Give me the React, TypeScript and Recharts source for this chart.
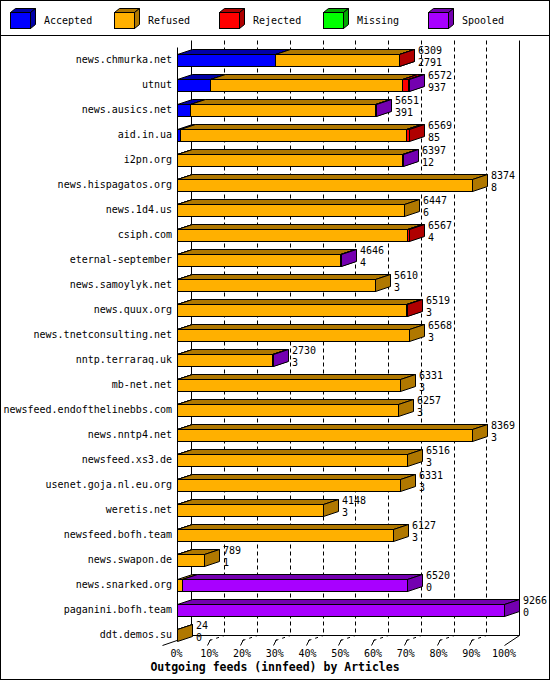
import React from "react";
import { Bar, BarChart, CartesianGrid, LabelList, Legend, XAxis, YAxis } from "recharts";

const hosts = [
  "news.chmurka.net",
  "utnut",
  "news.ausics.net",
  "aid.in.ua",
  "i2pn.org",
  "news.hispagatos.org",
  "news.1d4.us",
  "csiph.com",
  "eternal-september",
  "news.samoylyk.net",
  "news.quux.org",
  "news.tnetconsulting.net",
  "nntp.terraraq.uk",
  "mb-net.net",
  "newsfeed.endofthelinebbs.com",
  "news.nntp4.net",
  "newsfeed.xs3.de",
  "usenet.goja.nl.eu.org",
  "weretis.net",
  "newsfeed.bofh.team",
  "news.swapon.de",
  "news.snarked.org",
  "paganini.bofh.team",
  "ddt.demos.su"
];

// offered articles per peer (upper number next to each bar)
const totals = [6309, 6572, 5651, 6569, 6397, 8374, 6447, 6567, 4646, 5610, 6519, 6568, 2730, 6331, 6257, 8369, 6516, 6331, 4148, 6127, 789, 6520, 9266, 24];
const accepted = [2791, 937, 391, 85, 12, 8, 6, 4, 4, 3, 3, 3, 3, 3, 3, 3, 3, 3, 3, 3, 1, 0, 0, 0];
const refused = [3493, 5435, 5230, 6414, 6360, 8366, 6441, 6528, 4622, 5607, 6486, 6565, 2707, 6328, 6254, 8366, 6513, 6328, 4145, 6124, 788, 145, 0, 24];
const rejected = [25, 170, 0, 70, 0, 0, 0, 35, 0, 0, 30, 0, 0, 0, 0, 0, 0, 0, 0, 0, 0, 0, 0, 0];
const missing = [0, 0, 0, 0, 0, 0, 0, 0, 0, 0, 0, 0, 0, 0, 0, 0, 0, 0, 0, 0, 0, 0, 0, 0];
const spooled = [0, 30, 30, 0, 25, 0, 0, 0, 20, 0, 0, 0, 20, 0, 0, 0, 0, 0, 0, 0, 0, 6375, 9266, 0];

const maxArticles = 9266;
const tickPercents = [0, 10, 20, 30, 40, 50, 60, 70, 80, 90, 100];
const title = "Outgoing feeds (innfeed) by Articles";

const series = [
  { key: "accepted", name: "Accepted", color: "#0000ff", dark: "#0000a8" },
  { key: "refused", name: "Refused", color: "#ffb000", dark: "#b07800" },
  { key: "rejected", name: "Rejected", color: "#ff0000", dark: "#b00000" },
  { key: "missing", name: "Missing", color: "#00ff00", dark: "#00a800" },
  { key: "spooled", name: "Spooled", color: "#a800ff", dark: "#7400b0" }
];

const data = hosts.map((name, i) => ({
  name,
  accepted: accepted[i],
  refused: refused[i],
  rejected: rejected[i],
  missing: missing[i],
  spooled: spooled[i]
}));

const W = 550;
const H = 680;
const DX = 15;
const DY = 5;
const BAR = 12;
const BAND = 25;
const LEGEND_H = 36;
const FONT = "'DejaVu Sans Mono', 'Liberation Mono', monospace";
const FS = 10;
const GAP = (BAND - BAR) / 2;

const crisp = (v: number) => Math.round(v) + 0.5;

function Bar3D(props: any) {
  const { x, y, width, height, fill, dark } = props;
  if (!(width > 0)) return <g />;
  const x0 = crisp(x);
  const x1 = crisp(x + width);
  const y0 = crisp(y);
  const y1 = crisp(y + height);
  return (
    <g stroke="#000" strokeWidth={1}>
      <polygon points={`${x0},${y0} ${x0 + DX},${y0 - DY} ${x1 + DX},${y0 - DY} ${x1},${y0}`} fill={dark} />
      <polygon points={`${x1},${y0} ${x1 + DX},${y0 - DY} ${x1 + DX},${y1 - DY} ${x1},${y1}`} fill={dark} />
      <rect x={x0} y={y0} width={x1 - x0} height={y1 - y0} fill={fill} />
    </g>
  );
}

function TotalsLabel(props: any) {
  const vb = props.viewBox ?? props;
  const { index } = props;
  const tx = Math.round(vb.x + vb.width) + DX + 4;
  const ty = Math.round(vb.y);
  return (
    <g fontFamily={FONT} fontSize={FS} fill="#000">
      <text x={tx} y={ty - 3.5} dy="0.36em">{totals[index]}</text>
      <text x={tx} y={ty + 8} dy="0.36em">{accepted[index]}</text>
    </g>
  );
}

function renderGridLine(props: any) {
  const { x1, y1, y2, index } = props;
  const x = crisp(x1);
  const floorFront = crisp(y2 - GAP);
  const floorBack = floorFront - DY;
  const backTop = crisp(y1 - GAP);
  const last = index === tickPercents.length - 1;
  if (index === 0) {
    return (
      <g key={`g${index}`} stroke="#000" strokeWidth={1}>
        <line x1={x} y1={crisp(y1)} x2={x} y2={floorFront} />
        <line x1={x + DX - 1} y1={backTop} x2={x + DX - 1} y2={floorBack} />
      </g>
    );
  }
  if (last) {
    return (
      <g key={`g${index}`} stroke="#000" strokeWidth={1}>
        <line x1={x + DX} y1={backTop} x2={x + DX} y2={floorBack} />
      </g>
    );
  }
  return (
    <g key={`g${index}`} stroke="#000" strokeWidth={1}>
      <line x1={x + DX} y1={backTop} x2={x + DX} y2={floorBack} strokeDasharray="4 3" />
      <line x1={x} y1={floorFront} x2={x + DX} y2={floorBack} strokeDasharray="3 4" />
      <line x1={x - 2} y1={floorFront + 5} x2={x + 1} y2={floorFront - 1} />
    </g>
  );
}

function renderFloor(props: any) {
  const { x1, x2, y1 } = props;
  const left = crisp(x1);
  const right = crisp(x2);
  const floorFront = crisp(y1 - GAP);
  const floorBack = floorFront - DY;
  return (
    <g key="floor" stroke="#000" strokeWidth={1}>
      <line x1={left + DX - 1} y1={floorBack} x2={right + DX} y2={floorBack} />
      <line x1={left - DX} y1={floorFront + DY} x2={left + DX - 1} y2={floorBack} />
      <line x1={right} y1={floorFront + DY} x2={right + DX} y2={floorBack} />
    </g>
  );
}

function XTick(props: any) {
  const { x, y, index } = props;
  return (
    <text x={x} y={y + 10.5} textAnchor="middle" fontFamily={FONT} fontSize={FS} fill="#000">
      {`${tickPercents[index]}%`}
    </text>
  );
}

function TitleLabel() {
  return (
    <text x={W / 2} y={671} textAnchor="middle" fontFamily={FONT} fontSize={11.5} fontWeight="bold" fill="#000">
      {title}
    </text>
  );
}

function LegendBox() {
  return (
    <svg width={W} height={LEGEND_H} style={{ display: "block" }}>
      {series.map((s, i) => {
        const x0 = 10.5 + Math.round(i * 104.4);
        return (
          <g key={s.key}>
            <g stroke="#000" strokeWidth={1}>
              <polygon points={`${x0},12.5 ${x0 + 5},8.5 ${x0 + 25},8.5 ${x0 + 20},12.5`} fill={s.dark} />
              <polygon points={`${x0 + 20},12.5 ${x0 + 25},8.5 ${x0 + 25},24.5 ${x0 + 20},28.5`} fill={s.dark} />
              <rect x={x0} y={12.5} width={20} height={16} fill={s.color} />
            </g>
            <text x={x0 + 33.5} y={20} dy="0.36em" fontFamily={FONT} fontSize={FS} fill="#000">
              {s.name}
            </text>
          </g>
        );
      })}
      <line x1={0} y1={35.5} x2={W} y2={35.5} stroke="#000" strokeWidth={1} />
    </svg>
  );
}

export default function App() {
  const plotTop = 46.5;
  const plotLeft = 176.5;
  const plotRight = 504;
  const plotBottom = plotTop + BAND * hosts.length;
  const xAxisH = 20;

  return (
    <div style={{ position: "absolute", left: 0, top: 0, width: W, height: H, background: "#fff" }}>
      <BarChart
        width={W}
        height={H}
        data={data}
        layout="vertical"
        barSize={BAR}
        margin={{ top: plotTop - LEGEND_H, right: W - plotRight, bottom: H - plotBottom - xAxisH, left: 1 }}
      >
        <CartesianGrid
          horizontal={renderFloor}
          vertical={renderGridLine}
          horizontalCoordinatesGenerator={({ offset }: any) => [offset.top + offset.height]}
        />
        <XAxis
          type="number"
          domain={[0, maxArticles]}
          ticks={tickPercents.map((p) => (p / 100) * maxArticles)}
          height={xAxisH}
          axisLine={false}
          tickLine={false}
          tickSize={0}
          tickMargin={0}
          tick={<XTick />}
          interval={0}
          label={<TitleLabel />}
        />
        <YAxis
          type="category"
          dataKey="name"
          width={plotLeft - 1}
          axisLine={false}
          tickLine={false}
          tickSize={0}
          tickMargin={4.5}
          interval={0}
          tick={{ fontFamily: FONT, fontSize: FS, fill: "#000" }}
        />
        <Legend
          verticalAlign="top"
          align="left"
          content={() => <LegendBox />}
          wrapperStyle={{ top: 0, left: 0, width: W, height: LEGEND_H }}
        />
        {series.map((s, i) => (
          <Bar
            key={s.key}
            dataKey={s.key}
            name={s.name}
            stackId="feeds"
            fill={s.color}
            isAnimationActive={false}
            shape={(p: any) => <Bar3D {...p} dark={s.dark} />}
          >
            {i === series.length - 1 ? <LabelList dataKey="spooled" content={<TotalsLabel />} /> : null}
          </Bar>
        ))}
      </BarChart>
      <div
        style={{
          position: "absolute",
          left: 0,
          top: 0,
          width: W,
          height: H,
          border: "1px solid #000",
          boxSizing: "border-box",
          pointerEvents: "none"
        }}
      />
    </div>
  );
}
